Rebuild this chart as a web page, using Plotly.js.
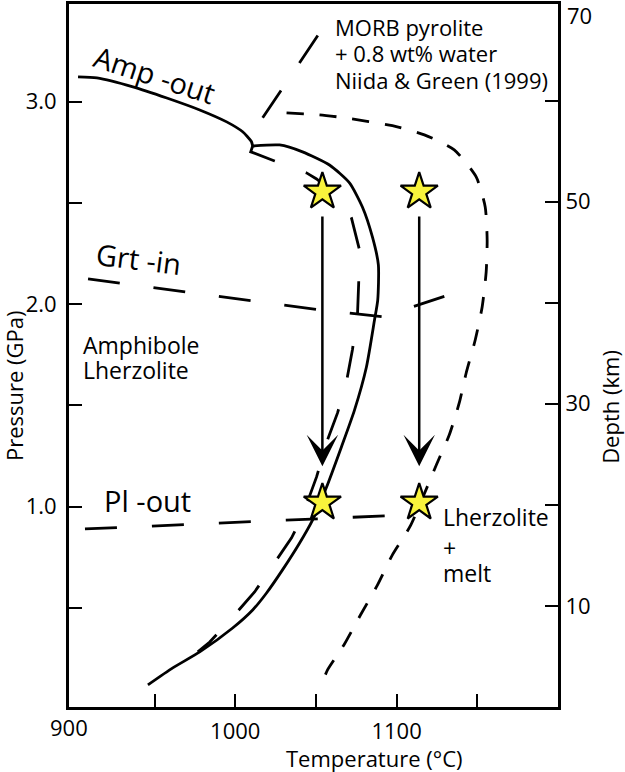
<!DOCTYPE html>
<html><head><meta charset="utf-8">
<script src="https://cdn.plot.ly/plotly-3.0.1.min.js"></script>
<style>html,body{margin:0;padding:0;background:#fff;}#chart{width:625px;height:772px;}</style>
</head><body><div id="chart"></div>
<script>
// Amp-out (solid), from left edge to the cusp
const ampOutT = [902.6, 914.3, 936.6, 957.6, 978.0, 994.7, 1004.6, 1010.0, 1010.8];
const ampOutP = [3.122, 3.117, 3.073, 3.018, 2.959, 2.900, 2.851, 2.803, 2.781];
// Solidus (solid), from the cusp down to low pressure
const solidusT = [1010.8, 1027.5, 1041.7, 1058.4, 1070.8, 1078.8, 1085.0, 1088.7, 1088.3, 1086.3, 1081.3, 1073.9, 1065.8, 1056.6, 1047.9, 1039.9, 1029.3, 1019.4, 1010.8, 998.4, 978.0, 961.3, 945.9];
const solidusP = [2.781, 2.786, 2.752, 2.687, 2.599, 2.480, 2.332, 2.194, 2.020, 1.922, 1.690, 1.477, 1.295, 1.097, 0.934, 0.821, 0.688, 0.574, 0.490, 0.401, 0.283, 0.204, 0.120];
// Long-dashed curve beside the solidus
const longDashT = [1010.8, 1009.6, 1024.4, 1044.2, 1050.4, 1064.6, 1072.0, 1077.0, 1076.5, 1075.7, 1072.6, 1068.9, 1063.4, 1057.2, 1050.4, 1046.0, 1041.1, 1034.9, 1023.2, 1012.0, 998.4, 984.2, 976.8];
const longDashP = [2.781, 2.752, 2.707, 2.648, 2.618, 2.525, 2.426, 2.268, 2.105, 1.937, 1.774, 1.616, 1.463, 1.330, 1.147, 1.048, 0.944, 0.846, 0.712, 0.579, 0.455, 0.332, 0.283];
// Niida & Green (1999) solidus, short dashes
const niidaT = [1031.8, 1052.2, 1067.7, 1097.4, 1117.2, 1135.7, 1149.3, 1154.9, 1156.1, 1155.5, 1153.0, 1148.7, 1143.1, 1138.8, 1132.6, 1124.6, 1108.5, 1097.4, 1088.1, 1077.6, 1067.7, 1057.2, 1055.3];
const niidaP = [2.944, 2.935, 2.920, 2.881, 2.836, 2.762, 2.628, 2.480, 2.317, 2.159, 1.986, 1.823, 1.660, 1.512, 1.354, 1.206, 0.905, 0.762, 0.613, 0.465, 0.322, 0.194, 0.159];
// Leader line to the label
const leaderT = [1017.0, 1053.5];
const leaderP = [2.920, 3.354];
// Grt-in and Pl-out boundaries
const grtInT = [908.8, 1010.2, 1051.0, 1091.2, 1130.8];
const grtInP = [2.125, 2.017, 1.973, 1.938, 2.042];
const plOutT = [906.9, 980.0, 1047.9, 1086.2, 1104.8];
const plOutP = [0.890, 0.915, 0.939, 0.949, 0.959];
// Stars (start and end of the paths)
const starT = [1054, 1114, 1054, 1114];
const starP = [2.555, 2.555, 1.020, 1.020];
// Arrows (tail -> head)
const arrowT = [1054, 1114];
const arrowFromP = [2.44, 2.44];
const arrowToP = [1.20, 1.20];
// Axis ticks
const xTickVals = [950, 1000, 1050, 1100, 1150];
const xTickText = ['', '1000', '', '1100', ''];
const yTickVals = [0.5, 1.0, 1.5, 2.0, 2.5, 3.0];
const yTickText = ['', '1.0', '', '2.0', '', '3.0'];
const depthTickVals = [10, 20, 30, 40, 50, 60];
const depthTickText = ['10', '', '30', '', '50', ''];

const FONT = 'Open Sans, Noto Sans, sans-serif';
const BLACK = '#000';

function lineTrace(x, y, dash, shape) {
  return {x: x, y: y, mode: 'lines', type: 'scatter', hoverinfo: 'skip',
    line: {color: BLACK, width: 2.8, dash: dash, shape: shape || 'spline', smoothing: 0.6}};
}

const traces = [
  lineTrace(ampOutT, ampOutP, 'solid'),
  lineTrace(solidusT, solidusP, 'solid'),
  lineTrace(longDashT, longDashP, '32px,33px', 'linear'),
  lineTrace(niidaT, niidaP, '17px,16px'),
  lineTrace(leaderT, leaderP, '33px,33px', 'linear'),
  lineTrace(grtInT, grtInP, '32px,34px', 'linear'),
  lineTrace(plOutT, plOutP, '32px,35px', 'linear'),
  {x: starT, y: starP, mode: 'markers', type: 'scatter', hoverinfo: 'skip',
   marker: {symbol: 'star', size: 28, color: '#f8f33c', line: {color: BLACK, width: 2.2}}},
  {x: [1000], y: [35], yaxis: 'y2', mode: 'markers', type: 'scatter', hoverinfo: 'skip',
   marker: {opacity: 0}, showlegend: false}
];

const annotations = [];
for (let i = 0; i < arrowT.length; i++) {
  annotations.push({x: arrowT[i], y: arrowToP[i], ax: arrowT[i], ay: arrowFromP[i],
    xref: 'x', yref: 'y', axref: 'x', ayref: 'y', text: '', showarrow: true,
    arrowhead: 3, arrowsize: 2.1, arrowwidth: 2.5, arrowcolor: BLACK});
}
function txt(x, y, text, size, opts) {
  return Object.assign({x: x, y: y, xref: 'x', yref: 'y', text: text, showarrow: false,
    xanchor: 'center', yanchor: 'middle', borderpad: 0,
    font: {family: FONT, size: size, color: BLACK}}, opts || {});
}
annotations.push(txt(950.2, 3.132, 'Amp -out', 29, {textangle: 18}));
annotations.push(txt(940.3, 2.223, 'Grt -in', 29, {textangle: 7}));
annotations.push(txt(945.9, 1.033, 'Pl -out', 29));
annotations.push(txt(905.0, 1.799, 'Amphibole', 23, {xanchor: 'left'}));
annotations.push(txt(905.0, 1.675, 'Lherzolite', 23, {xanchor: 'left'}));
annotations.push(txt(1128.3, 0.947, 'Lherzolite', 23, {xanchor: 'left'}));
annotations.push(txt(1128.3, 0.798, '+', 23, {xanchor: 'left'}));
annotations.push(txt(1128.3, 0.674, 'melt', 23, {xanchor: 'left'}));
annotations.push(txt(1061.5, 3.369, 'MORB pyrolite', 22, {xanchor: 'left'}));
annotations.push(txt(1061.5, 3.241, '+ 0.8 wt% water', 22, {xanchor: 'left'}));
annotations.push(txt(1061.5, 3.107, 'Niida &amp; Green (1999)', 22, {xanchor: 'left'}));
// axis titles and edge tick labels
function ptxt(x, y, text, opts) {
  return Object.assign({x: x, y: y, xref: 'paper', yref: 'paper', text: text, showarrow: false,
    xanchor: 'center', yanchor: 'middle', borderpad: 0,
    font: {family: FONT, size: 22, color: BLACK}}, opts || {});
}
annotations.push(ptxt(0.624, -0.0725, 'Temperature (°C)'));
annotations.push(ptxt(-0.1125, 0.458, 'Pressure (GPa)', {textangle: -90}));
annotations.push(ptxt(1.106, 0.4267, 'Depth (km)', {textangle: -90}));
annotations.push(ptxt(0.0, -0.0285, '900'));
annotations.push(ptxt(1.0164, 0.9845, '70', {xanchor: 'left'}));

const axisCommon = {showgrid: false, zeroline: false, showline: true, linewidth: 3, linecolor: BLACK,
  ticks: 'inside', ticklen: 13, tickwidth: 2, tickcolor: BLACK,
  tickfont: {family: FONT, size: 22, color: BLACK}, fixedrange: true};

const layout = {
  width: 625, height: 772,
  margin: {l: 69, r: 67, t: 4, b: 65, pad: 0},
  paper_bgcolor: '#fff', plot_bgcolor: '#fff',
  showlegend: false,
  xaxis: Object.assign({}, axisCommon, {range: [897, 1200], tickmode: 'array', tickvals: xTickVals, ticktext: xTickText, mirror: true, ticklabelstandoff: 3}),
  yaxis: Object.assign({}, axisCommon, {range: [0.011, 3.482], tickmode: 'array', tickvals: yTickVals, ticktext: yTickText, ticklabelstandoff: 5}),
  yaxis2: Object.assign({}, axisCommon, {range: [0, 69.55], overlaying: 'y', side: 'right', tickmode: 'array', tickvals: depthTickVals, ticktext: depthTickText}),
  annotations: annotations
};

Plotly.newPlot('chart', traces, layout, {staticPlot: true, displayModeBar: false});
</script>
</body></html>
